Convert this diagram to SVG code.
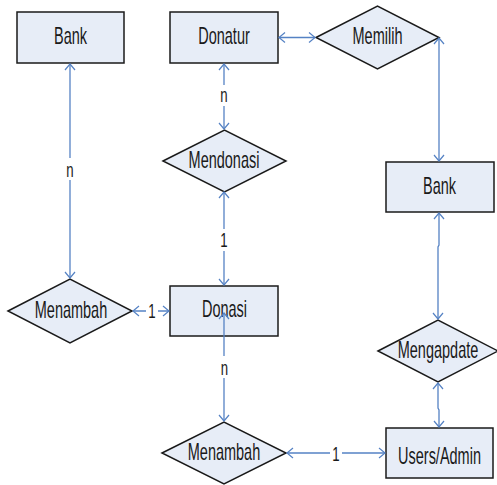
<svg xmlns="http://www.w3.org/2000/svg" width="497" height="485" viewBox="0 0 497 485">
  <style>
    .ent { fill: #e7edf7; stroke: #1a1a1a; stroke-width: 1.5; }
    .rel { fill: #e7edf7; stroke: #1a1a1a; stroke-width: 1.5; }
    .lbl { font-family: "Liberation Sans", Arial, sans-serif; font-size: 23px; fill: #1a1a1a; text-anchor: middle; }
    .card { font-family: "Liberation Sans", Arial, sans-serif; font-size: 21px; fill: #1a1a1a; text-anchor: middle; }
    .link { fill: none; stroke: #5582c4; stroke-width: 1.3; marker-start: url(#arr); marker-end: url(#arr); }
    .gap { fill: #ffffff; }
  </style>
  <defs>
    <marker id="arr" markerUnits="userSpaceOnUse" viewBox="-8 -6 9 12" refX="0" refY="0" markerWidth="9" markerHeight="12" orient="auto-start-reverse">
      <path d="M-6,-5 L0,0 L-6,5" fill="none" stroke="#5582c4" stroke-width="1.2"/>
    </marker>
  </defs>
  <rect width="497" height="485" fill="#ffffff"/>

  <!-- entities and relationships (condensed labels: scaleX 0.63) -->
  <g id="bank-left">
    <rect class="ent" x="17" y="12" width="107" height="51"/>
    <text class="lbl" transform="translate(70.5 44) scale(0.63 1)">Bank</text>
  </g>

  <g id="donatur">
    <rect class="ent" x="170" y="12" width="108" height="51"/>
    <text class="lbl" transform="translate(224 44) scale(0.63 1)">Donatur</text>
  </g>

  <g id="memilih">
    <polygon class="rel" points="316,37.5 377.5,6 439,37.5 377.5,69"/>
    <text class="lbl" transform="translate(377.5 44) scale(0.63 1)">Memilih</text>
  </g>

  <g id="bank-right">
    <rect class="ent" x="386" y="162" width="108" height="50"/>
    <text class="lbl" transform="translate(439.5 194) scale(0.63 1)">Bank</text>
  </g>

  <g id="mendonasi">
    <polygon class="rel" points="163,161 224.5,130 286,161 224.5,192"/>
    <text class="lbl" transform="translate(224 168) scale(0.63 1)">Mendonasi</text>
  </g>

  <g id="menambah-left">
    <polygon class="rel" points="8,311 70,279 132,311 70,343"/>
    <text class="lbl" transform="translate(71 318) scale(0.63 1)">Menambah</text>
  </g>

  <g id="donasi">
    <rect class="ent" x="170" y="286" width="108" height="50"/>
    <text class="lbl" transform="translate(224.5 317) scale(0.63 1)">Donasi</text>
  </g>

  <g id="mengapdate">
    <polygon class="rel" points="378,351 438,320 498,351 438,382"/>
    <text class="lbl" transform="translate(438 358) scale(0.63 1)">Mengapdate</text>
  </g>

  <g id="menambah-bottom">
    <polygon class="rel" points="162,453 224,422 286,453 224,484"/>
    <text class="lbl" transform="translate(224 460) scale(0.63 1)">Menambah</text>
  </g>

  <g id="users-admin">
    <rect class="ent" x="386" y="428" width="107" height="50"/>
    <text class="lbl" transform="translate(439.5 464) scale(0.63 1)">Users/Admin</text>
  </g>

  <!-- connectors with cardinality labels -->
  <g id="connectors">
    <line class="link" x1="70" y1="64" x2="70" y2="278"/>
    <rect class="gap" x="64" y="158" width="12" height="22"/>
    <text class="card" transform="translate(70 177) scale(0.63 1)">n</text>

    <line class="link" x1="224" y1="64" x2="224" y2="129"/>
    <rect class="gap" x="218" y="85" width="12" height="21"/>
    <text class="card" transform="translate(224 102) scale(0.63 1)">n</text>

    <line class="link" x1="224" y1="192" x2="224" y2="285"/>
    <rect class="gap" x="218" y="229" width="12" height="22"/>
    <text class="card" transform="translate(224 247) scale(0.63 1)">1</text>

    <line class="link" x1="133" y1="311" x2="169" y2="311"/>
    <rect class="gap" x="146" y="302" width="12" height="20"/>
    <text class="card" transform="translate(152 318) scale(0.63 1)">1</text>

    <line class="link" x1="224" y1="313" x2="224" y2="421"/>
    <rect class="gap" x="217" y="356" width="14" height="22"/>
    <text class="card" transform="translate(224.5 375) scale(0.63 1)">n</text>

    <line class="link" x1="287" y1="453" x2="385" y2="453"/>
    <rect class="gap" x="330" y="443" width="12" height="21"/>
    <text class="card" transform="translate(336 461) scale(0.63 1)">1</text>

    <line class="link" x1="279" y1="37.5" x2="315" y2="37.5"/>

    <line class="link" x1="439" y1="38" x2="439" y2="161"/>

    <polyline class="link" points="439,213 439,245 438,247 438,319"/>

    <polyline class="link" points="438,383 438,408 439,410 439,427"/>
  </g>
</svg>
